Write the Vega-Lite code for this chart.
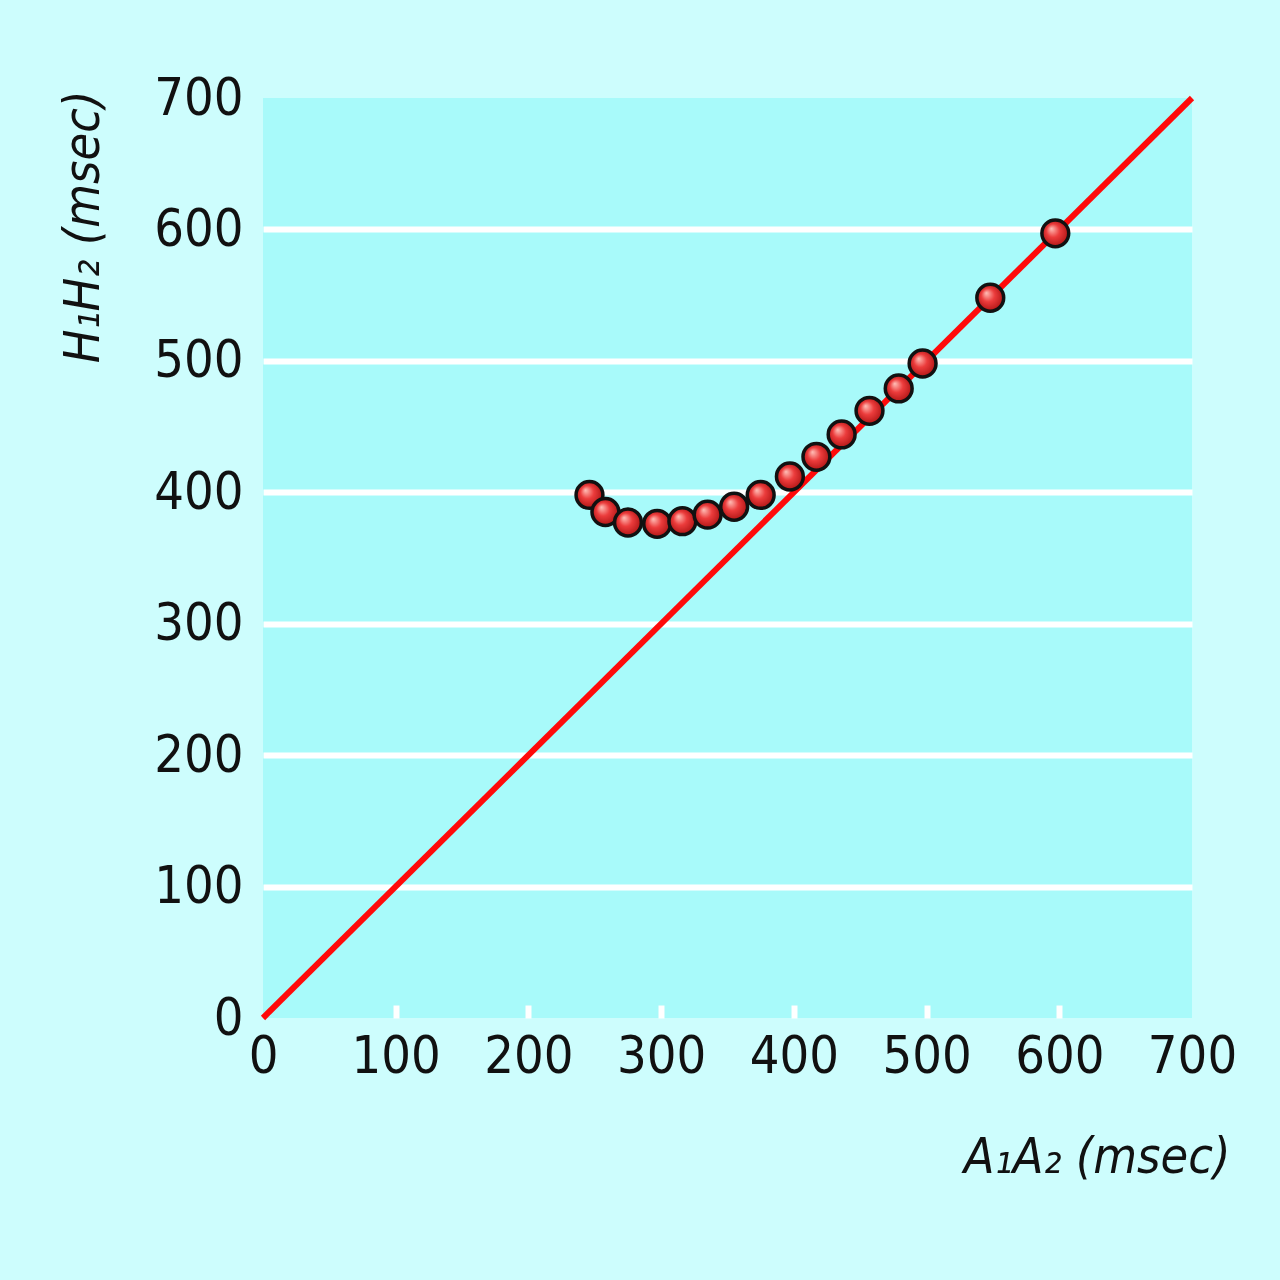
{
  "$schema": "https://vega.github.io/schema/vega-lite/v6.json",
  "width": 929,
  "height": 920,
  "autosize": "none",
  "padding": {"left": 263, "top": 98, "right": 88, "bottom": 262},
  "background": "#cdfdfd",
  "config": {
    "view": {"fill": "#a8fafa", "stroke": null},
    "font": "Liberation Sans Narrow, DejaVu Sans Condensed, Roboto, sans-serif",
    "axis": {
      "labelFont": "Liberation Sans Narrow, DejaVu Sans Condensed, Roboto, sans-serif",
      "labelFontSize": 52,
      "labelColor": "#111111",
      "labelOverlap": false,
      "labelFlush": false,
      "titleFont": "Liberation Sans Narrow, DejaVu Sans Condensed, Roboto, sans-serif",
      "titleFontSize": 50,
      "titleFontStyle": "italic",
      "titleFontWeight": "normal",
      "titleColor": "#111111",
      "domain": false
    }
  },
  "datasets": {
    "diag": [{"a": 0, "h": 0}, {"a": 700, "h": 700}],
    "pts": [
      {"a": 246, "h": 398},
      {"a": 258, "h": 385},
      {"a": 275, "h": 377},
      {"a": 297, "h": 376},
      {"a": 316, "h": 378},
      {"a": 335, "h": 383},
      {"a": 355, "h": 389},
      {"a": 375, "h": 398},
      {"a": 397, "h": 412},
      {"a": 417, "h": 427},
      {"a": 436, "h": 444},
      {"a": 457, "h": 462},
      {"a": 479, "h": 479},
      {"a": 497, "h": 498},
      {"a": 548, "h": 548},
      {"a": 597, "h": 597}
    ]
  },
  "encoding": {
    "x": {
      "field": "a",
      "type": "quantitative",
      "scale": {"domain": [0, 700], "nice": false, "zero": false},
      "axis": {
        "values": [0, 100, 200, 300, 400, 500, 600, 700],
        "grid": false,
        "tickSize": -13,
        "tickWidth": 6,
        "tickColor": {"condition": {"test": "datum.value == 0 || datum.value == 700", "value": "transparent"}, "value": "white"},
        "labelPadding": 26,
        "labelBaseline": "top",
        "title": "A₁A₂ (msec)",
        "titleAnchor": null,
        "titleAlign": "right",
        "titleBaseline": "alphabetic",
        "titleX": 967,
        "titleY": 154
      }
    },
    "y": {
      "field": "h",
      "type": "quantitative",
      "scale": {"domain": [0, 700], "nice": false, "zero": false},
      "axis": {
        "values": [0, 100, 200, 300, 400, 500, 600, 700],
        "ticks": false,
        "labelPadding": 20,
        "grid": true,
        "gridWidth": 6,
        "gridColor": {"condition": {"test": "datum.value == 0 || datum.value == 700", "value": "transparent"}, "value": "white"},
        "gridOpacity": 1,
        "title": "H₁H₂ (msec)",
        "titleAngle": -90,
        "titleAnchor": null,
        "titleAlign": "right",
        "titleBaseline": "middle",
        "titleX": -180,
        "titleY": -8
      }
    }
  },
  "layer": [
    {
      "data": {"name": "diag"},
      "mark": {"type": "line", "color": "#ff0a0a", "strokeWidth": 6, "clip": false}
    },
    {
      "data": {"name": "pts"},
      "mark": {
        "type": "point",
        "shape": "circle",
        "filled": true,
        "size": 720,
        "opacity": 1,
        "stroke": "#111111",
        "strokeWidth": 3.5,
        "fill": {
          "gradient": "radial",
          "x1": 0.35, "y1": 0.32, "r1": 0,
          "x2": 0.5, "y2": 0.5, "r2": 0.55,
          "stops": [
            {"offset": 0, "color": "#ffc0b8"},
            {"offset": 0.45, "color": "#ec3c3c"},
            {"offset": 1, "color": "#a81010"}
          ]
        }
      }
    }
  ]
}
